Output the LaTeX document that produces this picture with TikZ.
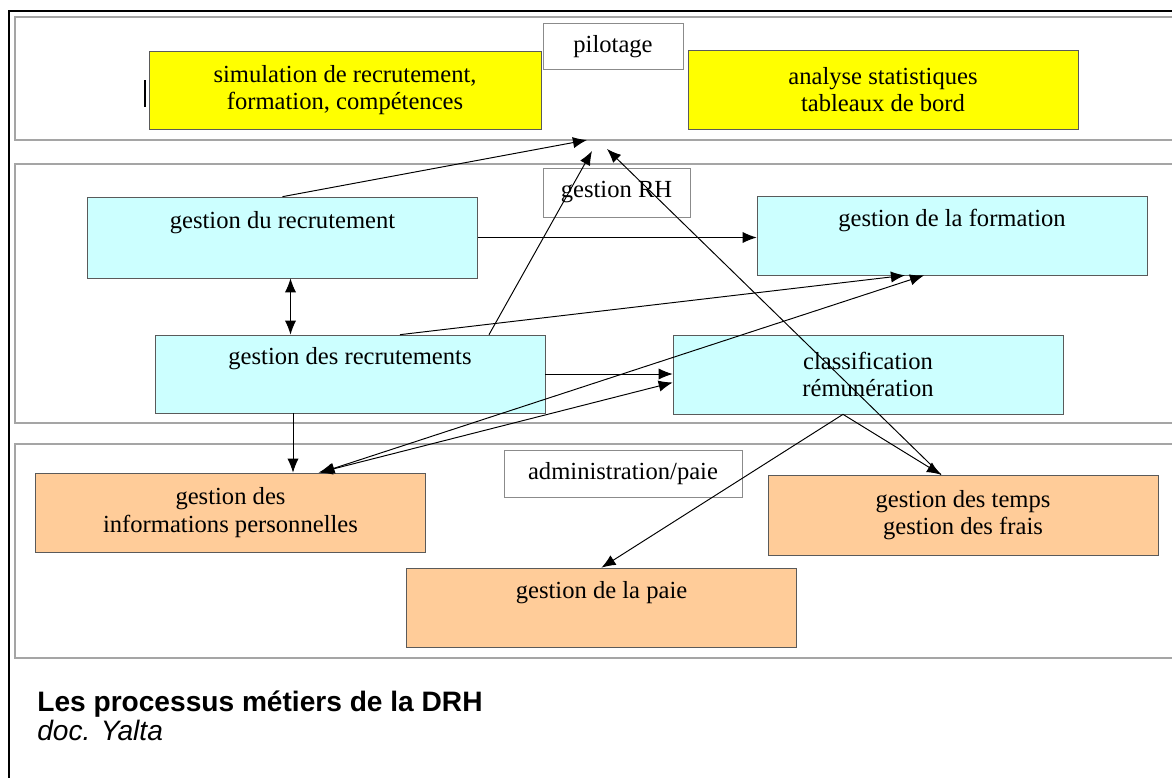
\documentclass[tikz,border=0pt]{standalone}
\usepackage{fontspec}
\setmainfont{Liberation Serif}
\newfontfamily\capfont{Liberation Sans}
\usepackage{xcolor}
\usetikzlibrary{arrows.meta,calc}
\definecolor{jaune}{RGB}{255,255,0}
\definecolor{cyanclair}{RGB}{204,255,255}
\definecolor{peche}{RGB}{255,204,153}
\definecolor{bord}{RGB}{90,90,90}
\definecolor{bande}{RGB}{165,165,165}

\begin{document}
\begin{tikzpicture}[
x=0.02cm,
y=-0.02cm,
every node/.style={font=\fontsize{14}{15.5}\selectfont},
proc/.style={rectangle,draw=bord,align=center,inner sep=0pt,minimum width=7.8cm,minimum height=1.58cm},
pilot/.style={proc,fill=jaune},
rh/.style={proc,fill=cyanclair},
admin/.style={proc,fill=peche},
tag/.style={rectangle,draw=bord!70,fill=white,inner sep=0pt,minimum height=0.92cm},
band/.style={draw=bande,line width=1.1pt},
arr/.style={-{Latex[length=8pt,width=6.4pt]},line width=0.55pt},
dbl/.style={{Latex[length=8pt,width=6.4pt]}-{Latex[length=8pt,width=6.4pt]},line width=0.55pt},
legende/.style={anchor=base west,inner sep=0pt}
]
\useasboundingbox (0,0) rectangle (1172,778);
\fill[white] (0,0) rectangle (1172,778);
\draw[line width=0.8pt] (1172,11) -- (9,11) -- (9,778);
\draw[band] (1172,17) -- (15,17) -- (15,140) -- (1172,140);
\draw[band] (1172,164) -- (15,164) -- (15,423) -- (1172,423);
\draw[band] (1172,444) -- (15,444) -- (15,658) -- (1172,658);

\node[tag,minimum width=2.8cm] (pilotage) at (613,46.5) {pilotage};
\node[pilot,minimum width=7.84cm,minimum height=1.56cm] (simul) at (345,90) {simulation de recrutement,\\formation, compétences};
\node[pilot] (stats) at (883,89.5) {analyse statistiques\\tableaux de bord};
\draw[line width=1.2pt] ($(simul.west)+(-4,-10)$) -- ($(simul.west)+(-4,17)$);

\node[tag,minimum width=2.94cm,minimum height=0.98cm] (gestrh) at (616.5,192.5) {gestion RH};
\node[rh,minimum height=1.62cm] (recru) at (282.5,237.5) {gestion du recrutement\\\strut};
\node[rh] (form) at (952,235.5) {gestion de la formation\\\strut};
\node[rh,minimum height=1.56cm] (recrus) at (350,374) {gestion des recrutements\\\strut};
\node[rh] (classif) at (868,374.5) {classification\\rémunération};

\node[tag,minimum width=4.76cm,minimum height=0.94cm] (adminpaie) at (623,473.5) {administration/paie};
\node[admin] (infos) at (230.5,512.5) {gestion des\\informations personnelles};
\node[admin,minimum height=1.6cm] (temps) at (963,515) {gestion des temps\\gestion des frais};
\node[admin] (paie) at (601.5,607.5) {gestion de la paie\\\strut};

\coordinate (pa) at (587,140);
\coordinate (pb) at (592,151);
\coordinate (pc) at (607,149);
\coordinate (d1) at ($(recru.south)+(8,0)$);
\coordinate (d2) at ($(recrus.south)+(-57,0)$);
\coordinate (tt) at ($(temps.north)+(-22,0)$);
\coordinate (cb) at ($(classif.south)+(-25,0)$);

\draw[arr] (recru.north) -- (pa);
\draw[arr] ($(recrus.north)+(139,0)$) -- (pb);
\draw[arr] (tt) -- (pc);
\draw[dbl] (d1) -- (d1 |- recrus.north);
\draw[arr] (recru.east) -- (recru.east -| form.west);
\draw[arr] ($(recrus.north)+(50,0)$) -- ($(form.south)+(-47,0)$);
\draw[arr] (d2) -- (d2 |- infos.north);
\draw[arr] (recrus.east) -- (recrus.east -| classif.west);
\draw[dbl] ($(infos.north)+(90,0)$) -- ($(form.south)+(-28,0)$);
\draw[dbl] ($(infos.north)+(88,0)$) -- ($(classif.west)+(0,8)$);
\draw[arr] (cb) -- (paie.north);
\draw[arr] (cb) -- (tt);

\node[legende,font=\capfont\fontsize{16}{18}\selectfont\bfseries] (titre) at (37,711) {Les processus métiers de la DRH};
\node[legende,font=\capfont\fontsize{16}{18}\selectfont\itshape] (source) at (37,740) {doc. Yalta};
\end{tikzpicture}
\end{document}
